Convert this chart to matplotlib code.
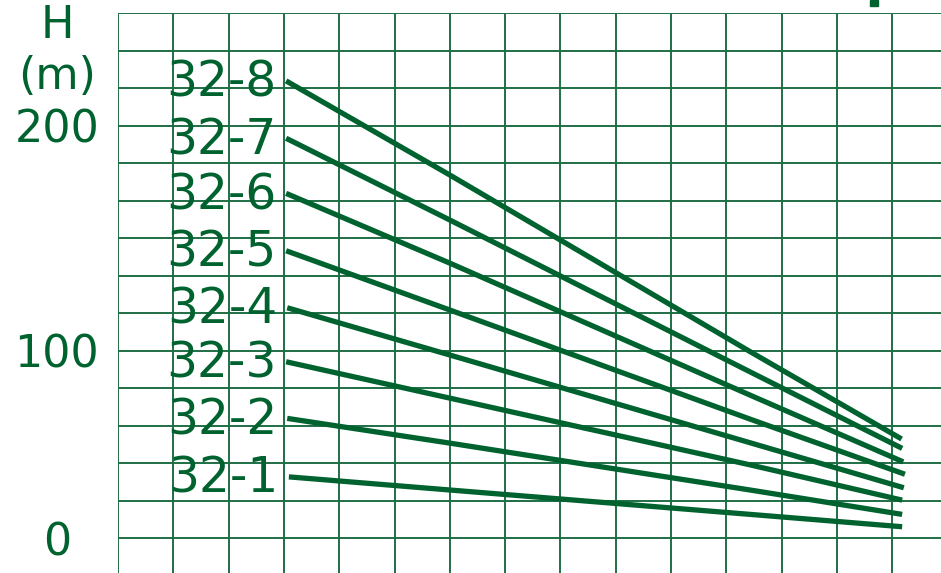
import matplotlib
matplotlib.use("Agg")
import matplotlib.pyplot as plt
from matplotlib.patches import Rectangle

# curves, in grid units (x: 1 = one column, y: 1 = one row above the "0" line)
models = ["32-1", "32-2", "32-3", "32-4", "32-5", "32-6", "32-7", "32-8"]
q_1 = [3.09, 6.00, 11.43, 14.18]
q_2 = [3.06, 6.00, 11.43, 14.18]
q_3 = [3.04, 6.00, 11.43, 14.18]
q_4 = [3.06, 6.00, 11.43, 14.21]
q_5 = [3.04, 6.00, 11.43, 14.23]
q_6 = [3.04, 6.00, 11.43, 14.20]
q_7 = [3.04, 6.00, 11.43, 14.18]
q_8 = [3.04, 6.00, 11.43, 14.17]
h_1 = [1.63, 1.28, 0.63, 0.30]
h_2 = [3.19, 2.53, 1.28, 0.63]
h_3 = [4.70, 3.73, 1.95, 1.01]
h_4 = [6.14, 4.88, 2.54, 1.34]
h_5 = [7.66, 6.08, 3.17, 1.70]
h_6 = [9.19, 7.33, 3.81, 2.03]
h_7 = [10.66, 8.48, 4.43, 2.39]
h_8 = [12.19, 9.68, 4.97, 2.64]
ytick_pos = [0, 5, 11]
ytick_lab = ["0", "100", "200"]

GREEN = "#00632f"
GRID = "#1e6e45"

plt.rcParams["font.family"] = ["DejaVu Sans"]

fig = plt.figure(figsize=(9.41, 5.73), dpi=100)
ax = fig.add_axes([118 / 941, 0, 1 - 118 / 941, 560 / 573])
ax.set_xlim(0, 823 / 55.3)
ax.set_ylim(-35 / 37.5, 14)

# grid drawn by hand so the left/top borders match
for i in range(15):
    ax.axvline(i, color=GRID, lw=1.4, zorder=1)
    ax.axhline(i, color=GRID, lw=1.4, zorder=1)
for s in ax.spines.values():
    s.set_visible(False)

qs = [q_1, q_2, q_3, q_4, q_5, q_6, q_7, q_8]
hs = [h_1, h_2, h_3, h_4, h_5, h_6, h_7, h_8]
for name, q, h in zip(models, qs, hs):
    ax.plot(q, h, color=GREEN, lw=3.8, solid_capstyle="butt", zorder=3)
    ax.text(q[0] - 0.18, h[0] - 0.05, name, ha="right", va="center",
            fontsize=35, color=GREEN, zorder=4)

ax.set_xticks([])
ax.set_yticks(ytick_pos, ytick_lab)
ax.tick_params(axis="y", length=0, pad=44, labelsize=32, labelcolor=GREEN)
for lab in ax.get_yticklabels():
    lab.set_ha("center")

fig.text(57 / 941, 1 - 25 / 573, "H", ha="center", va="center", fontsize=32, color=GREEN)
fig.text(57 / 941, 1 - 76 / 573, "(m)", ha="center", va="center", fontsize=32, color=GREEN)

# small cut-off mark at top edge
fig.patches.append(Rectangle((870 / 941, 1 - 5.7 / 573), 8 / 941, 5.7 / 573,
                             transform=fig.transFigure, color=GREEN))

fig.savefig("out.png", dpi=100)
